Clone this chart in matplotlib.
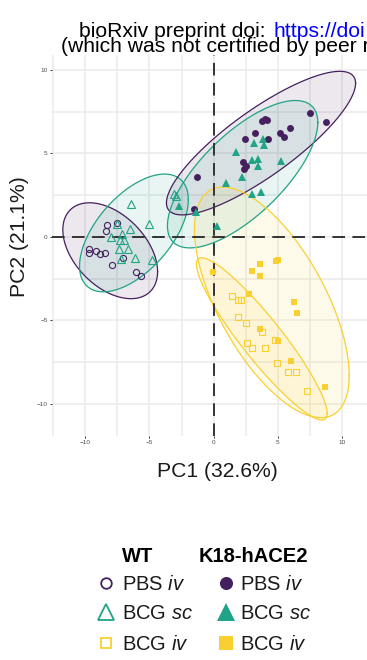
import numpy as np
import matplotlib
import matplotlib.pyplot as plt

matplotlib.use("Agg")

plt.rcParams["font.family"] = ["Liberation Sans", "DejaVu Sans"]
plt.rcParams["mathtext.fontset"] = "custom"
plt.rcParams["mathtext.rm"] = "Liberation Sans"
plt.rcParams["mathtext.it"] = "Liberation Sans:italic"

# ── PCA scores per group ─────────────────────────────────────────────────────
wt_pbs_iv_pc1 = [-8.28, -8.36, -7.53, -9.72, -9.72, -9.20, -8.83, -8.44, -7.89, -7.06, -6.07, -5.63]
wt_pbs_iv_pc2 = [0.70, 0.37, 0.82, -0.70, -0.96, -0.83, -1.04, -0.94, -1.66, -1.24, -2.10, -2.36]

wt_bcg_sc_pc1 = [-6.46, -5.03, -7.50, -6.48, -7.97, -7.11, -7.32, -7.00, -7.38, -6.67, -7.19, -6.15, -4.84, -3.10, -2.95]
wt_bcg_sc_pc2 = [1.96, 0.80, 0.80, 0.50, 0.00, 0.20, -0.16, -0.20, -0.70, -0.70, -1.30, -1.24, -1.40, 2.56, 2.44]

wt_bcg_iv_pc1 = [1.47, 1.94, 2.13, 1.94, 2.50, 3.80, 2.63, 2.97, 4.01, 4.83, 4.91, 5.83, 6.43, 7.29]
wt_bcg_iv_pc2 = [-3.52, -3.80, -3.77, -4.82, -5.15, -5.71, -6.38, -6.64, -6.67, -6.20, -7.56, -8.08, -8.07, -9.21]

k18_pbs_iv_pc1 = [-1.33, -1.54, 2.31, 2.52, 2.37, 2.48, 3.27, 4.28, 3.75, 4.01, 4.19, 5.18, 5.49, 5.96, 7.52, 8.75]
k18_pbs_iv_pc2 = [3.57, 1.66, 4.50, 4.25, 4.05, 5.85, 6.23, 5.87, 6.95, 7.04, 6.99, 6.20, 5.96, 6.51, 7.41, 6.89]

k18_bcg_sc_pc1 = [1.77, 3.15, 3.89, 3.97, 2.97, 3.46, 3.44, 2.25, 5.23, 0.94, 2.97, 3.70, 0.30, -1.34, -2.69]
k18_bcg_sc_pc2 = [5.11, 5.65, 5.88, 5.51, 4.61, 4.68, 4.25, 3.59, 4.55, 3.24, 2.55, 2.70, 0.68, 1.48, 1.87]

k18_bcg_iv_pc1 = [-0.05, 3.62, 3.02, 3.62, 5.00, 4.89, 2.77, 6.30, 6.53, 3.62, 5.02, 6.04, 8.70]
k18_bcg_iv_pc2 = [-2.10, -1.60, -2.06, -2.36, -1.40, -1.46, -3.40, -3.88, -4.54, -5.54, -6.26, -7.41, -9.00]

pc1_label = "PC1 (32.6%)"
pc2_label = "PC2 (21.1%)"
x_ticks = [-10, -5, 0, 5, 10]
y_ticks = [-10, -5, 0, 5, 10]

PURPLE = "#45205E"
GREEN = "#20A386"
YELLOW = "#F9D030"

# (pc1, pc2, colour, marker, filled)
groups = [
    (wt_pbs_iv_pc1, wt_pbs_iv_pc2, PURPLE, "o", False),
    (wt_bcg_sc_pc1, wt_bcg_sc_pc2, GREEN, "^", False),
    (wt_bcg_iv_pc1, wt_bcg_iv_pc2, YELLOW, "s", False),
    (k18_pbs_iv_pc1, k18_pbs_iv_pc2, PURPLE, "o", True),
    (k18_bcg_sc_pc1, k18_bcg_sc_pc2, GREEN, "^", True),
    (k18_bcg_iv_pc1, k18_bcg_iv_pc2, YELLOW, "s", True),
]


# ── 95% normal-theory confidence ellipse (mean + sample covariance) ──────────
def norm_ellipse(x, y, level=0.95, segments=120):
    xy = np.column_stack([x, y])
    center = xy.mean(axis=0)
    shape = np.cov(xy, rowvar=False)
    dfd = len(x) - 1
    qf = dfd / 2 * ((1 - level) ** (-2 / dfd) - 1)  # F(2, dfd) quantile
    radius = np.sqrt(2 * qf)
    t = np.linspace(0, 2 * np.pi, segments + 1)
    circle = np.column_stack([np.cos(t), np.sin(t)])
    pts = center + radius * circle @ np.linalg.cholesky(shape).T
    return pts[:, 0], pts[:, 1]


# ── figure / panel ────────────────────────────────────────────────────────────
W, H = 367, 660
fig = plt.figure(figsize=(W / 100, H / 100), dpi=100)


def fx(px):
    return px / W


def fy(py):
    return 1 - py / H


ax = fig.add_axes([fx(52), fy(435.5), (370 - 52) / W, (435.5 - 55) / H])

for spine in ax.spines.values():
    spine.set_visible(False)

ax.set_xticks(x_ticks)
ax.set_yticks(y_ticks)
ax.set_xticks([-12.5, -7.5, -2.5, 2.5, 7.5], minor=True)
ax.set_yticks([-7.5, -2.5, 2.5, 7.5], minor=True)
ax.set_xlim(-12.6, 12.2)
ax.set_ylim(-11.9, 10.9)
ax.grid(True, which="both", color="#EBEBEB", linewidth=1.1)
ax.set_axisbelow(True)
ax.tick_params(which="major", length=1.6, width=0.7, color="#333333",
               labelsize=4.6, labelcolor="#4D4D4D", pad=1.5)
ax.tick_params(which="minor", length=0)

# ellipses
for pc1, pc2, colour, marker, filled in groups:
    ex, ey = norm_ellipse(pc1, pc2)
    ax.fill(ex, ey, color=colour, alpha=0.1, linewidth=0, zorder=2)
    ax.plot(ex, ey, color=colour, linewidth=0.9, zorder=3)

# reference lines through the origin
ax.axhline(0, color="#333333", linewidth=1.4, linestyle=(0, (6.5, 3.8)), zorder=4)
ax.axvline(0, color="#333333", linewidth=1.4, linestyle=(0, (6.5, 3.8)), zorder=4)

# points
for pc1, pc2, colour, marker, filled in groups:
    if filled:
        ax.plot(pc1, pc2, linestyle="none", marker=marker, color=colour,
                markersize=5.0 if marker != "^" else 5.8, markeredgewidth=0, zorder=5)
    else:
        ax.plot(pc1, pc2, linestyle="none", marker=marker, markerfacecolor="none",
                markeredgecolor=colour, markersize=4.4 if marker != "^" else 5.6,
                markeredgewidth=0.8, zorder=5)

ax.set_xlim(-12.6, 12.2)
ax.set_ylim(-11.9, 10.9)

# axis titles
fig.text(fx(217.5), fy(477), pc1_label, ha="center", va="baseline",
         fontsize=15.2, color="#1A1A1A")
fig.text(fx(20), fy(237), pc2_label, ha="center", va="center", rotation=90,
         fontsize=15.2, color="#1A1A1A")

# preprint header
fig.text(fx(79), fy(37), "bioRxiv preprint doi: ", ha="left", va="baseline",
         fontsize=15.2, color="black")
fig.text(fx(273.5), fy(37), "https://doi", ha="left", va="baseline",
         fontsize=15.2, color="#0000FF")
fig.text(fx(61), fy(52.5), "(which was not certified by peer review)", ha="left",
         va="baseline", fontsize=15.2, color="black")

# ── legend ────────────────────────────────────────────────────────────────────
leg = fig.add_axes([0, 0, 1, 1], zorder=-1)
leg.set_xlim(0, W)
leg.set_ylim(H, 0)
leg.axis("off")

fig.text(fx(137.5), fy(561.5), "WT", ha="center", va="baseline",
         fontsize=14.5, fontweight="bold")
fig.text(fx(198.5), fy(561.5), "K18-hACE2", ha="left", va="baseline",
         fontsize=14.5, fontweight="bold")

legend_labels = ["PBS $\\mathit{iv}$", "BCG $\\mathit{sc}$", "BCG $\\mathit{iv}$"]
row_y = [583, 612, 642.5]
wt_sizes = [7.6, 11.0, 7.2]
k18_sizes = [9.4, 13.0, 9.4]
for i, (pc1, pc2, colour, marker, filled) in enumerate(groups[:3]):
    y = row_y[i]
    leg.plot([105.5], [y], marker=marker, linestyle="none", markerfacecolor="none",
             markeredgecolor=colour, markersize=wt_sizes[i], markeredgewidth=1.3)
    leg.plot([225.5], [y], marker=marker, linestyle="none", color=colour,
             markersize=k18_sizes[i], markeredgewidth=0)
    fig.text(fx(121.5), fy(y + 7.2), legend_labels[i], ha="left", va="baseline",
             fontsize=14.5, color="#1A1A1A")
    fig.text(fx(240), fy(y + 7.2), legend_labels[i], ha="left", va="baseline",
             fontsize=14.5, color="#1A1A1A")

fig.savefig("out.png", dpi=100)
